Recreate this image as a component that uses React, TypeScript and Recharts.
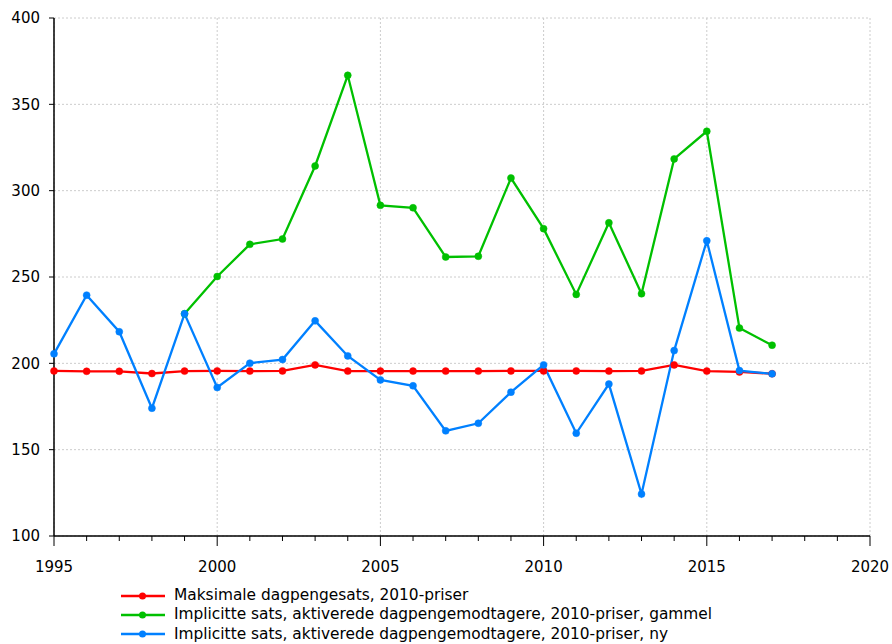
import React from "react";
import { LineChart, Line, XAxis, YAxis, CartesianGrid } from "recharts";

const years = [1995,1996,1997,1998,1999,2000,2001,2002,2003,2004,2005,2006,2007,2008,2009,2010,2011,2012,2013,2014,2015,2016,2017];
const maksimale = [195.6,195.4,195.4,194.1,195.5,195.6,195.5,195.6,199.1,195.5,195.5,195.5,195.5,195.5,195.6,195.6,195.6,195.5,195.6,199.1,195.5,195.0,194.0];
const gammel = [null,null,null,null,228.7,250.3,268.9,272.0,314.3,366.8,291.5,290.1,261.6,262.0,307.3,278.0,239.9,281.4,240.3,318.4,334.4,220.4,210.5];
const ny = [205.5,239.5,218.3,174.0,228.7,186.0,200.1,202.2,224.6,204.3,190.4,187.0,160.9,165.3,183.3,199.1,159.5,188.0,124.3,207.4,271.0,195.8,193.9];

const majorXTicks = [1995, 2000, 2005, 2010, 2015, 2020];
const allXTicks = [1995,1996,1997,1998,1999,2000,2001,2002,2003,2004,2005,2006,2007,2008,2009,2010,2011,2012,2013,2014,2015,2016,2017,2018,2019,2020];
const yTicks = [100, 150, 200, 250, 300, 350, 400];

const seriesNames = [
  "Maksimale dagpengesats, 2010-priser",
  "Implicitte sats, aktiverede dagpengemodtagere, 2010-priser, gammel",
  "Implicitte sats, aktiverede dagpengemodtagere, 2010-priser, ny",
];
const seriesKeys = ["maks", "gammel", "ny"];
const seriesColors = ["#ff0000", "#00c000", "#0080ff"];

const data = years.map((y, i) => ({ year: y, maks: maksimale[i], gammel: gammel[i], ny: ny[i] }));

const FONT = "'DejaVu Sans', Verdana, sans-serif";

const XTick = (props: any) => {
  const { x, y, payload } = props;
  const isMajor = majorXTicks.includes(payload.value);
  return (
    <g>
      <line x1={x} y1={y} x2={x} y2={y + (isMajor ? 10 : 5)} stroke="#000" strokeWidth={1} />
      {isMajor && (
        <text x={x} y={y + 36} textAnchor="middle" fill="#000" fontSize={15} fontFamily={FONT}>
          {payload.value}
        </text>
      )}
    </g>
  );
};

export default function App() {
  return (
    <div style={{ position: "absolute", left: 0, top: 0, width: 892, height: 644, background: "#fff", fontFamily: FONT, overflow: "hidden" }}>
      <LineChart width={892} height={644} data={data} margin={{ top: 18, right: 22, left: 0, bottom: 78 }}>
        <CartesianGrid stroke="#cccccc" strokeDasharray="2 2" verticalValues={majorXTicks} horizontalValues={yTicks} />
        <XAxis
          dataKey="year"
          type="number"
          domain={[1995, 2020]}
          ticks={allXTicks}
          interval={0}
          height={30}
          tickSize={0}
          tickMargin={0}
          tickLine={false}
          axisLine={{ stroke: "#000", strokeWidth: 1.5 }}
          tick={XTick}
        />
        <YAxis
          type="number"
          domain={[100, 400]}
          ticks={yTicks}
          width={54}
          tickSize={5}
          tickMargin={9}
          axisLine={{ stroke: "#000", strokeWidth: 1.5 }}
          tickLine={{ stroke: "#000" }}
          tick={{ fill: "#000", fontSize: 15, fontFamily: FONT }}
        />
        {seriesKeys.map((k, i) => (
          <Line
            key={k}
            dataKey={k}
            name={seriesNames[i]}
            stroke={seriesColors[i]}
            strokeWidth={2.3}
            dot={{ r: 3.5, fill: seriesColors[i], stroke: seriesColors[i], strokeWidth: 0.5 }}
            isAnimationActive={false}
            connectNulls={false}
          />
        ))}
      </LineChart>
      <div style={{ position: "absolute", left: 121, top: 586, fontSize: 15.4, lineHeight: "19.3px", fontFamily: FONT, color: "#000" }}>
        {seriesNames.map((n, i) => (
          <div key={n} style={{ display: "flex", alignItems: "center", height: 19.3, whiteSpace: "nowrap" }}>
            <svg width={53} height={10} style={{ display: "block", flex: "none" }}>
              <line x1={0} y1={5} x2={44} y2={5} stroke={seriesColors[i]} strokeWidth={2.3} />
              <circle cx={21.5} cy={5} r={3.5} fill={seriesColors[i]} />
            </svg>
            <span>{n}</span>
          </div>
        ))}
      </div>
    </div>
  );
}
